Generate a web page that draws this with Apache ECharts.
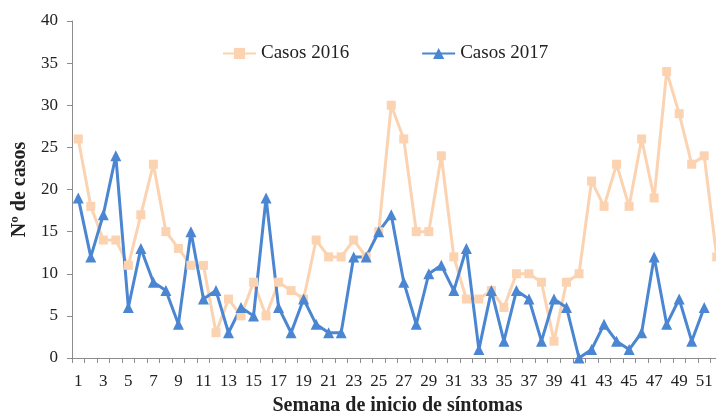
<!DOCTYPE html>
<html>
<head>
<meta charset="utf-8">
<script src="https://cdn.jsdelivr.net/npm/echarts@6/dist/echarts.min.js"></script>
<style>
  html, body { margin: 0; padding: 0; background: #fff; }
  #chart { width: 716px; height: 418px; }
</style>
</head>
<body>
<div id="chart"></div>
<script>
  // semanas epidemiologicas 1..52
  var semanas = [];
  for (var w = 1; w <= 52; w++) semanas.push(String(w));

  var casos2016 = [26, 18, 14, 14, 11, 17, 23, 15, 13, 11, 11, 3, 7, 5, 9, 5, 9, 8, 7, 14,
    12, 12, 14, 12, 15, 30, 26, 15, 15, 24, 12, 7, 7, 8, 6, 10, 10, 9, 2, 9,
    10, 21, 18, 23, 18, 26, 19, 34, 29, 23, 24, 12];

  var casos2017 = [19, 12, 17, 24, 6, 13, 9, 8, 4, 15, 7, 8, 3, 6, 5, 19, 6, 3, 7, 4,
    3, 3, 12, 12, 15, 17, 9, 4, 10, 11, 8, 13, 1, 8, 2, 8, 7, 2, 7, 6,
    0, 1, 4, 2, 1, 3, 12, 4, 7, 2, 6, null];

  var serif = '"Liberation Serif", "DejaVu Serif", serif';
  var axisGray = '#8c8c8c';

  var chart = echarts.init(document.getElementById('chart'));

  chart.setOption({
    animation: false,
    backgroundColor: '#fff',
    textStyle: { fontFamily: serif, color: '#222' },
    grid: {
      left: 72,
      top: 21,
      width: 651,
      height: 337,
      containLabel: false,
      outerBoundsMode: 'none'
    },
    legend: {
      left: 217,
      top: 39,
      itemWidth: 33,
      itemHeight: 14,
      itemGap: 72,
      textStyle: { fontFamily: serif, fontSize: 19, color: '#222' },
      data: ['Casos 2016', 'Casos 2017']
    },
    xAxis: {
      type: 'category',
      data: semanas,
      boundaryGap: true,
      name: 'Semana de inicio de síntomas',
      nameLocation: 'middle',
      nameGap: 38,
      nameTextStyle: { fontFamily: serif, fontSize: 20, fontWeight: 'bold', color: '#222' },
      axisLine: { lineStyle: { color: axisGray, width: 1 } },
      axisTick: { show: true, length: 5, interval: 0, lineStyle: { color: axisGray } },
      axisLabel: { interval: 1, margin: 15, fontFamily: serif, fontSize: 17, color: '#222' },
      splitLine: { show: false }
    },
    yAxis: {
      type: 'value',
      min: 0,
      max: 40,
      interval: 5,
      name: 'Nº de casos',
      nameLocation: 'middle',
      nameGap: 39,
      nameTextStyle: { fontFamily: serif, fontSize: 20, fontWeight: 'bold', color: '#222' },
      axisLine: { show: true, lineStyle: { color: axisGray, width: 1 } },
      axisTick: { show: true, length: 5, lineStyle: { color: axisGray } },
      axisLabel: { margin: 14, fontFamily: serif, fontSize: 17, color: '#222' },
      splitLine: { show: false }
    },
    series: [{
      name: 'Casos 2016',
      type: 'line',
      data: casos2016,
      symbol: 'rect',
      symbolSize: 9,
      showAllSymbol: true,
      lineStyle: { color: '#fbd3b1', width: 3 },
      itemStyle: { color: '#fbd3b1' }
    }, {
      name: 'Casos 2017',
      type: 'line',
      data: casos2017,
      symbol: 'triangle',
      symbolSize: 11,
      showAllSymbol: true,
      connectNulls: false,
      lineStyle: { color: '#4a86d1', width: 3 },
      itemStyle: { color: '#4a86d1' }
    }]
  });
</script>
</body>
</html>
